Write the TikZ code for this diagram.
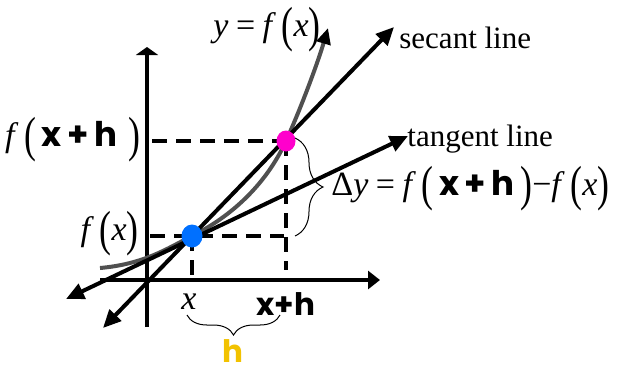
\documentclass[tikz,border=0pt]{standalone}
\usepackage{fontspec}
\setmainfont{Liberation Serif}
\newfontfamily\hand{Poppins}
\usetikzlibrary{arrows.meta,decorations.pathreplacing,shapes.geometric}
\definecolor{dotblue}{HTML}{0070FF}
\definecolor{dotpink}{HTML}{FF00CC}
\definecolor{hgold}{HTML}{F2C200}
\definecolor{curvegray}{HTML}{505050}
\newcommand{\lpr}{\raisebox{-0.16em}{\scalebox{1.05}[1.45]{(}}}
\newcommand{\rpr}{\raisebox{-0.16em}{\scalebox{1.05}[1.45]{)}}}
\newcommand{\hw}[1]{{\hand\bfseries #1}}
\newcommand{\mathsz}{\fontsize{17}{20}\selectfont}
\newcommand{\eqs}{\hspace{0.22em}=\hspace{0.22em}}
\begin{document}
\begin{tikzpicture}[x=0.5pt,y=-0.5pt,
  font=\fontsize{15.5}{18}\selectfont,
  lbl/.style={inner sep=0pt},
  thickline/.style={line width=2pt},
  dashline/.style={line width=2pt, dash pattern=on 7.5pt off 4.5pt},
  axisline/.style={line width=2pt},
  bothtip/.style={{Triangle[length=9pt,width=8pt]}-{Triangle[length=9pt,width=8pt]}},
  bracestyle/.style={decorate, line width=0.5pt},
  dot/.style={ellipse, inner sep=0pt, draw=none}]
\useasboundingbox (0,0) rectangle (625,371);

% key points
\coordinate (P) at (192,236);
\coordinate (Q) at (286,141);
\coordinate (yQ) at (152,141);
\coordinate (yP) at (150,236);
\coordinate (xQ) at (286,270);
\coordinate (xP) at (192,280);
\coordinate (rP) at (284,236);

% dashed guides
\draw[dashline] (yQ) -- (Q);
\draw[dashline] (Q) -- (xQ);
\draw[dashline] (yP) -- (rP);
\draw[dashline] (P) -- (xP);

% axes
\coordinate (xa0) at (100,280);
\coordinate (xa1) at (380,280);
\coordinate (ya0) at (147,327);
\coordinate (ya1) at (147,47);
\draw[axisline,-{Triangle[length=6pt,width=9pt]}] (xa0) -- (xa1);
\draw[axisline,-{Triangle[length=4pt,width=11pt]}] (ya0) -- (ya1);

% curve y = f(x)
\coordinate (c0) at (100,268);
\coordinate (c1) at (328,28);
\draw[line width=2pt, curvegray, -{Triangle[length=8pt,width=7pt,color=black]}]
  (c0) .. controls (145,264) and (168,248) .. (P)
       .. controls (240,212) and (270,176) .. (Q)
       .. controls (301,108) and (318,62) .. (c1);

% secant line
\coordinate (s0) at (103,328);
\coordinate (s1) at (394,27);
\draw[thickline,bothtip] (s0) -- (s1);

% tangent line
\coordinate (t0) at (66,299);
\coordinate (t1) at (408,136);
\draw[thickline,bothtip] (t0) -- (t1);

% points
\node[dot, fill=dotblue, minimum width=10.5pt, minimum height=11.5pt] (Pdot) at (P) {};
\node[dot, fill=dotpink, minimum width=9.5pt, minimum height=10.5pt] (Qdot) at (Q) {};

% braces
\coordinate (b0) at (295,138);
\coordinate (b1) at (295,236);
\draw[bracestyle, decoration={brace, amplitude=14pt}] (b0) -- (b1);
\coordinate (h0) at (280,315);
\coordinate (h1) at (187,315);
\draw[bracestyle, decoration={brace, amplitude=10pt}] (h0) -- (h1);

% labels
\node[lbl, anchor=east] (lblf) at (321,30) {\mathsz\textit{y}\eqs\textit{f}\,\lpr\textit{x}\rpr};
\node[lbl, anchor=west] (lblsec) at (399,38) {secant line};
\node[lbl, anchor=west] (lbltan) at (407,139) {tangent line};
\node[lbl, anchor=west] (lbldy) at (331,189) {\mathsz Δ\textit{y}\eqs\textit{f}\,\lpr\,\hw{x\,+\,h}\,\rpr−\textit{f}\,\lpr\textit{x}\rpr};
\node[lbl, anchor=east] (lblfxh) at (141,140) {\mathsz\textit{f}\,\lpr\,\hw{x\,+\,h}\,\,\rpr};
\node[lbl, anchor=east] (lblfx) at (139,234) {\mathsz\textit{f}\,\lpr\textit{x}\rpr};
\node[lbl] (lblx) at (189,302) {\mathsz\textit{x}};
\node[lbl] (lblxh) at (286,304) {\hw{x+h}};
\node[lbl, text=hgold] (lblh) at (233,351) {\hw{h}};
\end{tikzpicture}
\end{document}
